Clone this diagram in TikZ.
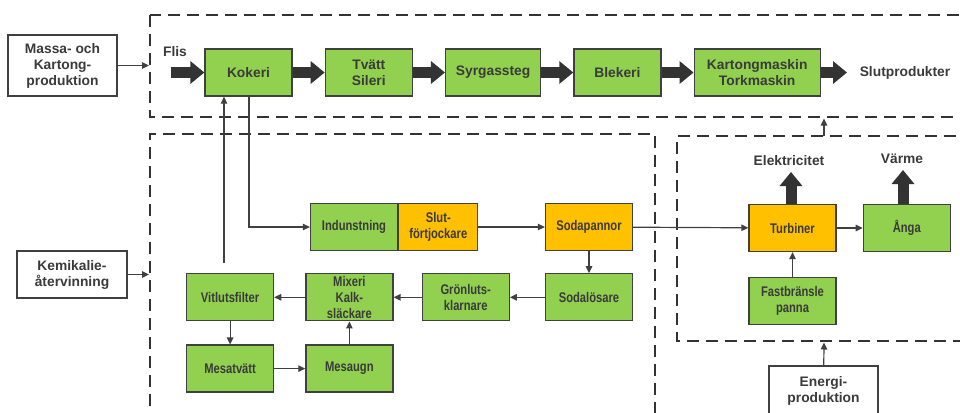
\documentclass[tikz,border=0pt]{standalone}
\usepackage{fontspec}
\setmainfont{Liberation Sans}
\newfontfamily\smalfont[FakeStretch=0.8]{Liberation Sans}
\usetikzlibrary{arrows.meta,positioning}
\definecolor{gron}{HTML}{92D050}
\definecolor{gul}{HTML}{FFC000}
\definecolor{rand}{HTML}{404040}
\definecolor{mork}{HTML}{333333}
\definecolor{skrift}{HTML}{3A3A3A}
\tikzset{
  ruta/.style={draw=rand,line width=1.3pt,minimum width=87pt,minimum height=47pt,
    inner sep=0pt,align=center,text=skrift},
  gronruta/.style={ruta,fill=gron},
  gulruta/.style={ruta,fill=gul},
  vitruta/.style={ruta,fill=white},
  stor/.style={font=\fontsize{13.8}{16}\selectfont\bfseries,text=skrift},
  liten/.style={font=\fontsize{14}{16}\smalfont\bfseries},
  pil/.style={draw=rand,line width=1.2pt,-{Triangle[length=7pt,width=6.5pt]}},
  tjock/.style={draw=mork,line width=11pt,-{Triangle[length=14pt,width=22pt]}},
  ram/.style={draw=mork,line width=2.6pt,dash pattern=on 12pt off 7pt},
}
\begin{document}
\begin{tikzpicture}[x=1pt,y=-1pt,node distance=32pt]
  \useasboundingbox (0,0) rectangle (960,412);
  \clip (0,0) rectangle (960,412);
  % ramar
  \draw[ram] (150,15) rectangle (975,117);
  \draw[ram] (150,425) -- (150,134) -- (655,134) -- (655,425);
  \draw[ram] (975,136) -- (677,136) -- (677,341) -- (975,341);
  % massa- och kartongproduktion
  \node[gronruta,stor] (kok) at (248.5,72.5) {Kokeri};
  \node[gronruta,stor,right=of kok] (tvatt) {Tvätt\\Sileri};
  \node[gronruta,stor,minimum width=95pt,right=of tvatt] (syr) {Syrgassteg};
  \node[gronruta,stor,right=of syr] (blek) {Blekeri};
  \node[gronruta,stor,minimum width=126pt,right=of blek] (kart) {Kartongmaskin\\Torkmaskin};
  \node[stor] (flis) at (175,52) {Flis};
  \node[stor] (slutp) at (905,72.5) {Slutprodukter};
  \coordinate (flisin) at (171,72.5);
  \coordinate (slutput) at (847,72.5);
  \draw[tjock] (flisin) -- (kok);
  \draw[tjock] (kok) -- (tvatt);
  \draw[tjock] (tvatt) -- (syr);
  \draw[tjock] (syr) -- (blek);
  \draw[tjock] (blek) -- (kart);
  \draw[tjock] (kart) -- (slutput);
  % kemikalieåtervinning
  \node[gronruta,liten] (ind) at (354,227) {Indunstning};
  \node[gulruta,liten,minimum width=79pt,right=0pt of ind] (slut) {Slut-\\förtjockare};
  \node[gulruta,liten] (soda) at (589,227) {Sodapannor};
  \node[gronruta,liten,below=22pt of soda] (sodal) {Sodalösare};
  \node[gronruta,liten,left=35pt of sodal] (gronl) {Grönluts-\\klarnare};
  \node[gronruta,liten,left=28pt of gronl] (mix) {Mixeri\\Kalk-\\släckare};
  \node[gronruta,liten,left=31pt of mix] (vit) {Vitlutsfilter};
  \node[gronruta,liten,below=23pt of vit] (mesav) {Mesatvätt};
  \node[gronruta,liten,right=31pt of mesav] (mesau) {Mesaugn};
  \coordinate (upp) at (224,263);
  \coordinate (ner) at (249,227);
  \draw[pil] (upp) -- (upp |- kok.south);
  \draw[pil] (ner |- kok.south) |- (ind.west);
  \draw[pil] (slut) -- (soda);
  \draw[pil] (soda) -- (sodal);
  \draw[pil] (sodal) -- (gronl);
  \draw[pil] (gronl) -- (mix);
  \draw[pil] (mix) -- (vit);
  \draw[pil] (vit) -- (mesav);
  \draw[pil] (mesav) -- (mesau);
  \draw[pil] (mesau) -- (mix);
  % energiproduktion
  \node[gulruta,liten] (turb) at (792.5,228) {Turbiner};
  \node[gronruta,liten,right=26pt of turb] (anga) {Ånga};
  \node[gronruta,liten,below=25pt of turb] (fast) {Fastbränsle\\panna};
  \coordinate (el) at (791,172);
  \coordinate (varm) at (903,170);
  \node[stor] (eltext) at (789,161) {Elektricitet};
  \node[stor] (varmtext) at (902,159) {Värme};
  \draw[tjock] (turb.north -| el) -- (el);
  \draw[tjock] (anga.north -| varm) -- (varm);
  \draw[pil] (soda) -- (turb);
  \draw[pil] (turb) -- (anga);
  \draw[pil] (fast) -- (turb);
  % omraden
  \node[vitruta,stor,minimum width=109pt,minimum height=61pt] (massa) at (62.5,65.5) {Massa- och\\Kartong-\\produktion};
  \node[vitruta,stor,minimum width=110pt] (kem) at (72,274.5) {Kemikalie-\\återvinning};
  \node[vitruta,stor,minimum width=109pt,minimum height=50pt] (energi) at (823.5,391) {Energi-\\produktion};
  \coordinate (massin) at (149,65.5);
  \coordinate (kemin) at (149,274.5);
  \coordinate (eneut) at (824,136);
  \coordinate (masstopp) at (824,118.5);
  \coordinate (enebotten) at (824,342.5);
  \draw[pil] (massa) -- (massin);
  \draw[pil] (kem) -- (kemin);
  \draw[pil] (energi) -- (enebotten);
  \draw[pil] (eneut) -- (masstopp);
\end{tikzpicture}
\end{document}
